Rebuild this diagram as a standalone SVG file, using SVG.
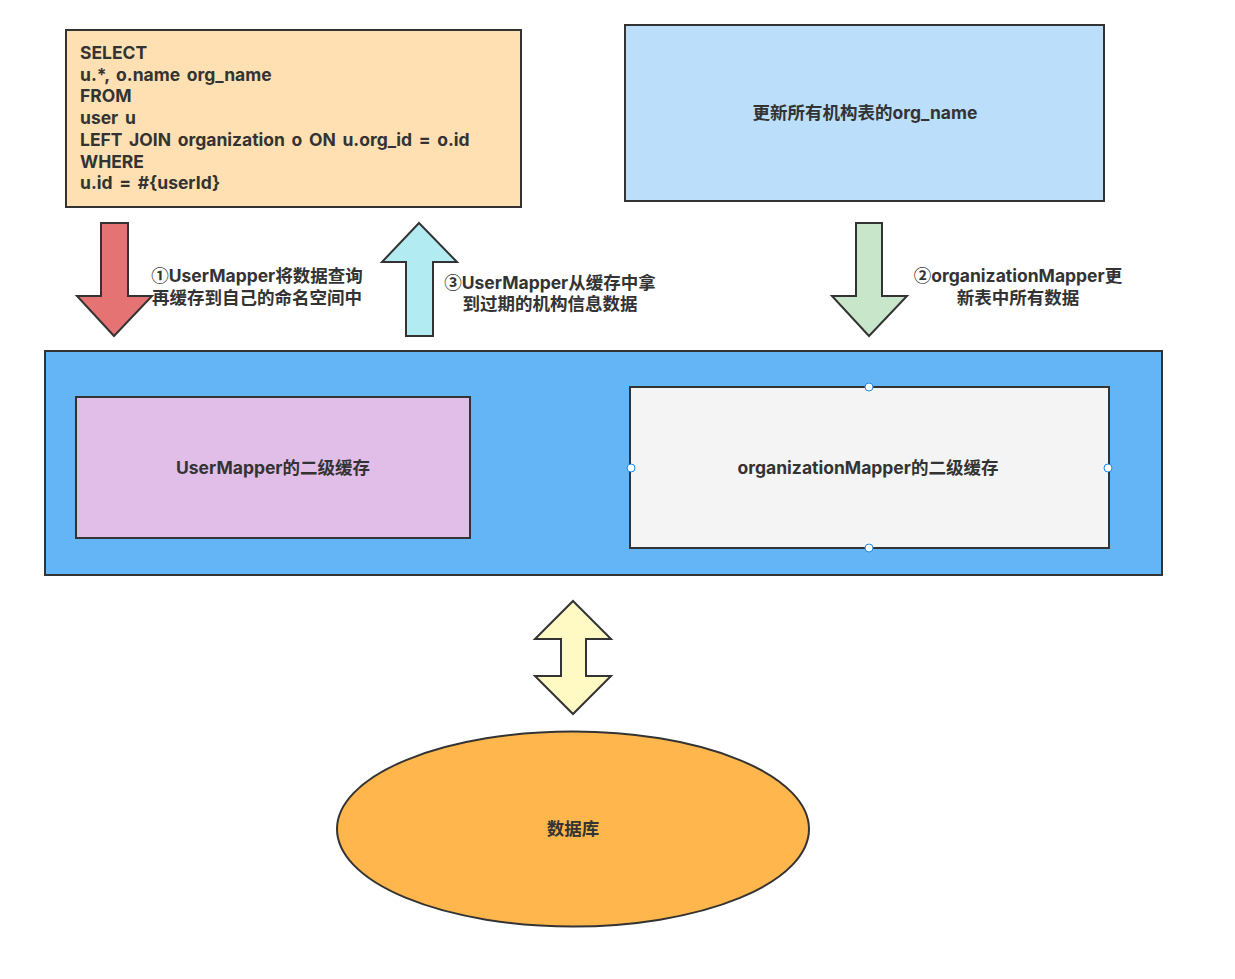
<svg xmlns="http://www.w3.org/2000/svg" width="1235" height="979" viewBox="0 0 1235 979">
<style>
.s{stroke:#333;stroke-width:2}
.t{font-family:Inter,"Noto Sans CJK SC",sans-serif;font-weight:bold;font-size:17.5px;fill:#333}
.q{word-spacing:2.5px}
.c{text-anchor:middle}
.n{font-family:"Noto Sans CJK SC",sans-serif}
.h{fill:#fff;stroke:#1e88e5;stroke-width:1}
</style>
<rect width="1235" height="979" fill="#fff"/>
<g id="sql">
<rect class="s" x="66" y="30" width="455" height="177" fill="#ffe0b2"/>
<text class="t q" x="80" y="59">SELECT</text>
<text class="t q" x="80" y="81">u.*, o.name org_name</text>
<text class="t q" x="80" y="102">FROM</text>
<text class="t q" x="80" y="124">user u</text>
<text class="t q" x="80" y="146">LEFT JOIN organization o ON u.org_id = o.id</text>
<text class="t q" x="80" y="168">WHERE</text>
<text class="t q" x="80" y="189">u.id = #{userId}</text>
</g>
<g id="update">
<rect class="s" x="625" y="25" width="479" height="176" fill="#bbdefb"/>
<text class="t c" x="865" y="119">更新所有机构表的org_name</text>
</g>
<g id="connectors">
<polygon class="s" fill="#e57373" points="101,223 128,223 128,296 152,296 114,336 77,296 101,296"/>
<polygon class="s" fill="#b2ebf2" points="419,223 457,262 433,262 433,336 406,336 406,262 382,262"/>
<polygon class="s" fill="#c8e6c9" points="856,223 882,223 882,296 907,296 869,336 832,296 856,296"/>
<polygon class="s" fill="#fff9c4" points="573,601 611,639 586,639 586,676 611,676 573,714 535,676 561,676 561,639 535,639"/>
<text class="t c" x="257" y="282"><tspan class="n">①</tspan>UserMapper将数据查询</text>
<text class="t c" x="257" y="304">再缓存到自己的命名空间中</text>
<text class="t c" x="550" y="289"><tspan class="n">③</tspan>UserMapper从缓存中拿</text>
<text class="t c" x="550" y="310">到过期的机构信息数据</text>
<text class="t c" x="1018" y="282"><tspan class="n">②</tspan>organizationMapper更</text>
<text class="t c" x="1018" y="304">新表中所有数据</text>
</g>
<g id="container">
<rect class="s" x="45" y="351" width="1117" height="224" fill="#64b5f6"/>
</g>
<g id="userCache">
<rect class="s" x="76" y="397" width="394" height="141" fill="#e1bee7"/>
<text class="t c" x="273" y="474">UserMapper的二级缓存</text>
</g>
<g id="orgCache">
<rect class="s" x="630" y="387" width="479" height="161" fill="#f4f4f4"/>
<text class="t c" x="868" y="474">organizationMapper的二级缓存</text>
<circle class="h" cx="869" cy="387" r="4"/>
<circle class="h" cx="631" cy="468" r="4"/>
<circle class="h" cx="1108" cy="468" r="4"/>
<circle class="h" cx="869" cy="548" r="4"/>
</g>
<g id="db">
<ellipse class="s" cx="573" cy="829" rx="236" ry="97.5" fill="#ffb74d"/>
<text class="t c" x="573" y="835">数据库</text>
</g>
</svg>
